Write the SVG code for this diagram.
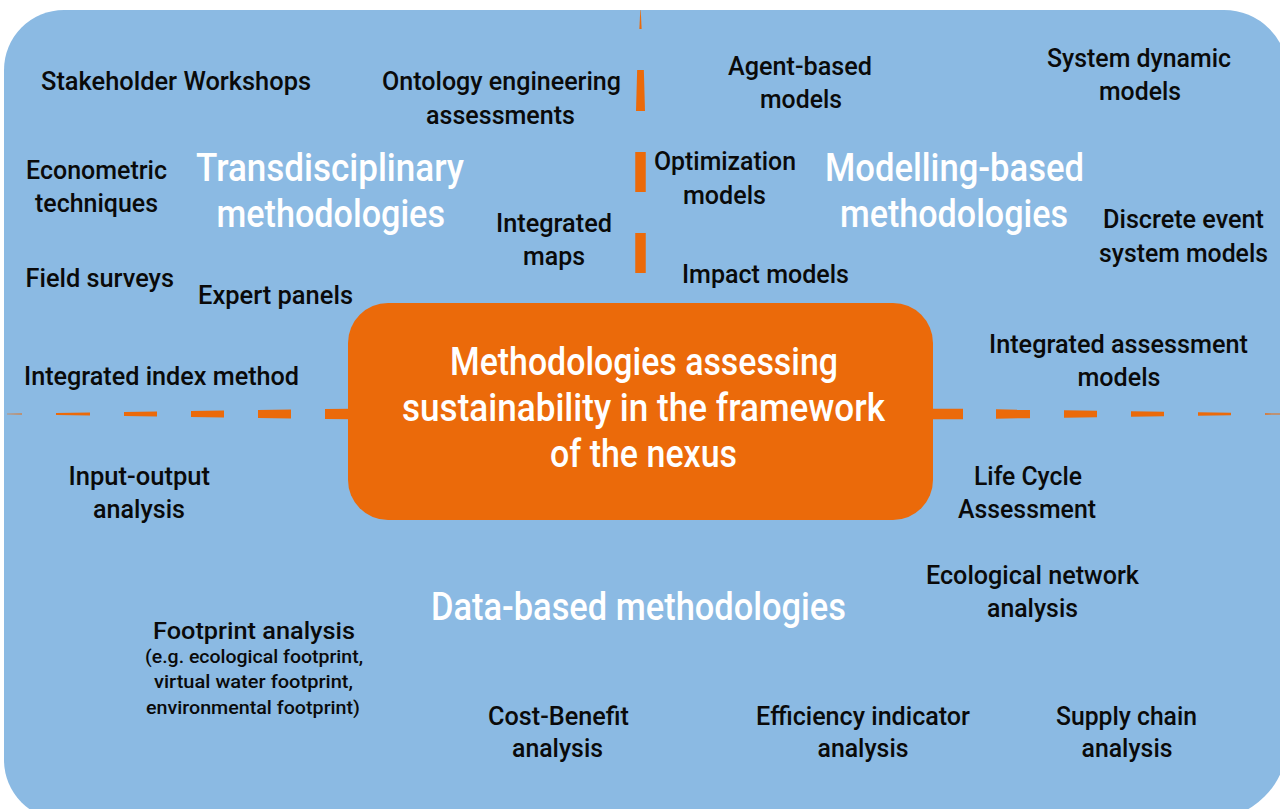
<svg xmlns="http://www.w3.org/2000/svg" width="1280" height="809" viewBox="0 0 1280 809">
  <style>
    text { font-family: Roboto, "DejaVu Sans", sans-serif; }
    .lbl { font-size: 25px; fill: #0a0a0a; font-weight: 500; }
    .lbl24 { font-size: 24px; fill: #0a0a0a; font-weight: 500; }
    .sm { font-size: 19px; fill: #0a0a0a; font-weight: 500; }
    .ttl { font-size: 39px; fill: #ffffff; font-weight: 500; }
    .ctr { font-size: 38px; fill: #ffffff; font-weight: 500; }
    .dash { fill: #eb6a0a; }
  </style>

  <!-- page -->
  <rect width="1280" height="809" fill="#ffffff"/>
  <path id="panel" d="M4,70 A60,60 0 0 1 64,10 L1224,10 A64,64 0 0 1 1288,74 L1288,740 A80,80 0 0 1 1208,820 L64,820 A60,60 0 0 1 4,760 Z" fill="#8bbae3"/>

  <!-- tapered dashed dividers -->
  <g id="connectors" class="dash">
    <!-- horizontal, left of centre -->
    <polygon points="7,413.64 22,413.42 22,414.58 7,414.36"/>
    <polygon points="56,412.91 90,412.4 90,415.6 56,415.09"/>
    <polygon points="124,411.89 157,411.4 157,416.6 124,416.11"/>
    <polygon points="191,410.88 224,410.39 224,417.61 191,417.12"/>
    <polygon points="258,409.88 291,409.38 291,418.62 258,418.12"/>
    <polygon points="325,408.88 352,408.75 352,419.25 325,419.12"/>
    <!-- horizontal, right of centre -->
    <polygon points="930,408.75 963,408.84 963,419.16 930,419.25"/>
    <polygon points="996,409.34 1030,409.85 1030,418.15 996,418.66"/>
    <polygon points="1064,410.36 1097,410.85 1097,417.15 1064,417.64"/>
    <polygon points="1131,411.36 1164,411.86 1164,416.14 1131,416.64"/>
    <polygon points="1198,412.37 1231,412.86 1231,415.14 1198,415.63"/>
    <polygon points="1265,413.37 1282,413.6 1282,414.4 1265,414.63"/>
    <!-- vertical, above centre -->
    <polygon points="640.3,10 640.7,10 641.65,29 639.35,29"/>
    <polygon points="637.15,70 643.85,70 645,111 636,111"/>
    <polygon points="635.25,152 645.75,152 645.75,192 635.25,192"/>
    <polygon points="635.25,233 645.75,233 645.75,273 635.25,273"/>
  </g>

  <!-- centre box -->
  <g id="centre">
    <rect x="348" y="303" width="585" height="217" rx="40" ry="40" fill="#eb6a0a"/>
    <text class="ctr" x="450" y="375" textLength="388" lengthAdjust="spacingAndGlyphs">Methodologies assessing</text>
    <text class="ctr" x="402" y="421" textLength="483" lengthAdjust="spacingAndGlyphs">sustainability in the framework</text>
    <text class="ctr" x="550" y="467" textLength="187" lengthAdjust="spacingAndGlyphs">of the nexus</text>
  </g>

  <!-- group titles -->
  <g id="transdisciplinary">
    <text class="ttl" x="196" y="181" textLength="268" lengthAdjust="spacingAndGlyphs">Transdisciplinary</text>
    <text class="ttl" x="216.5" y="227" textLength="228.5" lengthAdjust="spacingAndGlyphs">methodologies</text>
  </g>
  <g id="modelling">
    <text class="ttl" x="825" y="181" textLength="259" lengthAdjust="spacingAndGlyphs">Modelling-based</text>
    <text class="ttl" x="840" y="227" textLength="228" lengthAdjust="spacingAndGlyphs">methodologies</text>
  </g>
  <g id="databased">
    <text class="ttl" x="431" y="620" textLength="415" lengthAdjust="spacingAndGlyphs">Data-based methodologies</text>
  </g>

  <!-- transdisciplinary methods -->
  <g id="stakeholder">
    <text class="lbl" x="41" y="90" textLength="270" lengthAdjust="spacingAndGlyphs">Stakeholder Workshops</text>
  </g>
  <g id="ontology">
    <text class="lbl" x="382" y="90" textLength="239" lengthAdjust="spacingAndGlyphs">Ontology engineering</text>
    <text class="lbl" x="426" y="124" textLength="149" lengthAdjust="spacingAndGlyphs">assessments</text>
  </g>
  <g id="econometric">
    <text class="lbl" x="26" y="179" textLength="141" lengthAdjust="spacingAndGlyphs">Econometric</text>
    <text class="lbl" x="35" y="212" textLength="123" lengthAdjust="spacingAndGlyphs">techniques</text>
  </g>
  <g id="field">
    <text class="lbl" x="25.5" y="287" textLength="148.5" lengthAdjust="spacingAndGlyphs">Field surveys</text>
  </g>
  <g id="expert">
    <text class="lbl" x="198" y="304" textLength="155" lengthAdjust="spacingAndGlyphs">Expert panels</text>
  </g>
  <g id="maps">
    <text class="lbl" x="496" y="232" textLength="116" lengthAdjust="spacingAndGlyphs">Integrated</text>
    <text class="lbl" x="523" y="265" textLength="62" lengthAdjust="spacingAndGlyphs">maps</text>
  </g>
  <g id="index">
    <text class="lbl" x="24" y="385" textLength="275" lengthAdjust="spacingAndGlyphs">Integrated index method</text>
  </g>

  <!-- modelling methods -->
  <g id="agent">
    <text class="lbl" x="728" y="75" textLength="144" lengthAdjust="spacingAndGlyphs">Agent-based</text>
    <text class="lbl" x="760" y="108" textLength="82" lengthAdjust="spacingAndGlyphs">models</text>
  </g>
  <g id="systemdynamic">
    <text class="lbl" x="1047" y="67" textLength="184" lengthAdjust="spacingAndGlyphs">System dynamic</text>
    <text class="lbl" x="1099" y="100" textLength="82" lengthAdjust="spacingAndGlyphs">models</text>
  </g>
  <g id="optimization">
    <text class="lbl" x="654" y="170" textLength="142" lengthAdjust="spacingAndGlyphs">Optimization</text>
    <text class="lbl" x="683" y="204" textLength="83" lengthAdjust="spacingAndGlyphs">models</text>
  </g>
  <g id="discrete">
    <text class="lbl" x="1103" y="228" textLength="161" lengthAdjust="spacingAndGlyphs">Discrete event</text>
    <text class="lbl" x="1099" y="262" textLength="169" lengthAdjust="spacingAndGlyphs">system models</text>
  </g>
  <g id="impact">
    <text class="lbl" x="682" y="283" textLength="167" lengthAdjust="spacingAndGlyphs">Impact models</text>
  </g>
  <g id="iam">
    <text class="lbl" x="989" y="353" textLength="259" lengthAdjust="spacingAndGlyphs">Integrated assessment</text>
    <text class="lbl" x="1077.5" y="386" textLength="83" lengthAdjust="spacingAndGlyphs">models</text>
  </g>

  <!-- data-based methods -->
  <g id="inputoutput">
    <text class="lbl" x="68.5" y="485" textLength="141.5" lengthAdjust="spacingAndGlyphs">Input-output</text>
    <text class="lbl" x="93" y="518" textLength="92" lengthAdjust="spacingAndGlyphs">analysis</text>
  </g>
  <g id="lca">
    <text class="lbl" x="974" y="485" textLength="108" lengthAdjust="spacingAndGlyphs">Life Cycle</text>
    <text class="lbl" x="958" y="518" textLength="138" lengthAdjust="spacingAndGlyphs">Assessment</text>
  </g>
  <g id="ecological">
    <text class="lbl" x="926" y="584" textLength="213" lengthAdjust="spacingAndGlyphs">Ecological network</text>
    <text class="lbl" x="987" y="617" textLength="91" lengthAdjust="spacingAndGlyphs">analysis</text>
  </g>
  <g id="footprint">
    <text class="lbl24" x="153" y="639" textLength="202" lengthAdjust="spacingAndGlyphs">Footprint analysis</text>
    <text class="sm" x="145" y="663" textLength="218" lengthAdjust="spacingAndGlyphs">(e.g. ecological footprint,</text>
    <text class="sm" x="154" y="688" textLength="199" lengthAdjust="spacingAndGlyphs">virtual water footprint,</text>
    <text class="sm" x="146" y="714" textLength="214" lengthAdjust="spacingAndGlyphs">environmental footprint)</text>
  </g>
  <g id="costbenefit">
    <text class="lbl" x="488" y="725" textLength="141" lengthAdjust="spacingAndGlyphs">Cost-Benefit</text>
    <text class="lbl" x="512" y="757" textLength="91" lengthAdjust="spacingAndGlyphs">analysis</text>
  </g>
  <g id="efficiency">
    <text class="lbl" x="756" y="725" textLength="214" lengthAdjust="spacingAndGlyphs">Efficiency indicator</text>
    <text class="lbl" x="817.5" y="757" textLength="91" lengthAdjust="spacingAndGlyphs">analysis</text>
  </g>
  <g id="supply">
    <text class="lbl" x="1056" y="725" textLength="141" lengthAdjust="spacingAndGlyphs">Supply chain</text>
    <text class="lbl" x="1081.5" y="757" textLength="91" lengthAdjust="spacingAndGlyphs">analysis</text>
  </g>
</svg>
